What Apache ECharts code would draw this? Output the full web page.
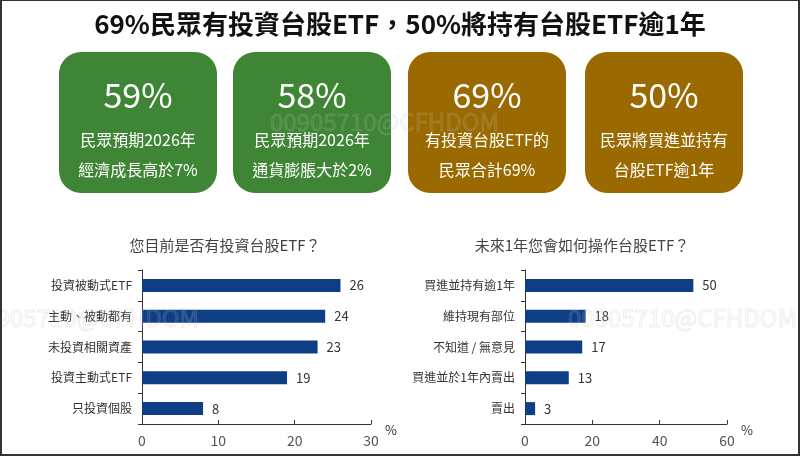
<!DOCTYPE html>
<html>
<head>
<meta charset="utf-8">
<script src="https://cdn.jsdelivr.net/npm/echarts@6/dist/echarts.min.js"></script>
<style>
  html, body { margin: 0; padding: 0; background: #fff; }
  #wrap { position: relative; width: 800px; height: 456px; }
  #chart { width: 800px; height: 456px; }
  #frame { position: absolute; left: 0; top: 0; width: 800px; height: 456px; box-sizing: border-box;
           border: 2px solid #333; border-top-width: 1px; pointer-events: none; }
</style>
</head>
<body>
<div id="wrap">
  <div id="chart"></div>
  <div id="frame"></div>
</div>
<script>
// 上方四個重點數字
const cardValues = ["59%", "58%", "69%", "50%"];
const cardLines = [
  ["民眾預期2026年", "經濟成長高於7%"],
  ["民眾預期2026年", "通貨膨脹大於2%"],
  ["有投資台股ETF的", "民眾合計69%"],
  ["民眾將買進並持有", "台股ETF逾1年"]
];
const cardColors = ["#3f8536", "#3f8536", "#9a6a00", "#9a6a00"];

// 左圖：您目前是否有投資台股ETF？
const holdCategories = ["投資被動式ETF", "主動、被動都有", "未投資相關資產", "投資主動式ETF", "只投資個股"];
const holdValues = [26, 24, 23, 19, 8];
const holdTicks = [0, 10, 20, 30];

// 右圖：未來1年您會如何操作台股ETF？
const planCategories = ["買進並持有逾1年", "維持現有部位", "不知道 / 無意見", "買進並於1年內賣出", "賣出"];
const planValues = [50, 18, 17, 13, 3];
const planTicks = [0, 20, 40, 60];

const FONT = '"Noto Sans CJK TC", "Noto Sans", sans-serif';
const chart = echarts.init(document.getElementById("chart"));

// 卡片（圓角矩形 + 文字）
const cardX = [59, 233, 408, 585];
const cardGraphics = [];
cardValues.forEach((v, i) => {
  const cx = cardX[i] + 79;
  cardGraphics.push({
    type: "rect",
    shape: { x: cardX[i], y: 52, width: 158, height: 141, r: 22 },
    style: { fill: cardColors[i] }
  });
  cardGraphics.push({
    type: "text",
    x: cx, y: 95,
    style: { text: v, fill: "#fff", font: "34px " + FONT, align: "center", verticalAlign: "middle" }
  });
  cardLines[i].forEach((t, j) => {
    cardGraphics.push({
      type: "text",
      x: cx, y: 140 + j * 30,
      style: { text: t, fill: "#fff", font: "16px " + FONT, align: "center", verticalAlign: "middle" }
    });
  });
});

// 浮水印
const watermark = [[270, 122], [-30, 318], [568, 318]].map(p => ({
  type: "text",
  x: p[0], y: p[1],
  z: 100,
  style: {
    text: "00905710@CFHDOM",
    fill: "rgba(255,255,255,0.08)",
    stroke: "rgba(170,170,170,0.22)",
    lineWidth: 1,
    font: "24px " + FONT,
    verticalAlign: "middle"
  }
}));

const xAxisOf = (ticks, idx) => ({
  type: "value",
  gridIndex: idx,
  min: ticks[0],
  max: ticks[ticks.length - 1],
  interval: ticks[1] - ticks[0],
  splitLine: { show: false },
  axisLine: { show: true, lineStyle: { color: "#333" } },
  axisTick: { show: true, inside: true, length: 4, lineStyle: { color: "#333" } },
  axisLabel: { color: "#555", fontSize: 14, fontFamily: FONT, margin: 10 },
  name: "%",
  nameLocation: "end",
  nameGap: 14,
  nameTextStyle: { color: "#333", fontSize: 13, fontFamily: FONT, verticalAlign: "top" }
});

const yAxisOf = (cats, idx) => ({
  type: "category",
  gridIndex: idx,
  data: cats,
  inverse: true,
  splitLine: { show: false },
  axisLine: { show: true, lineStyle: { color: "#333" } },
  axisTick: { show: true, length: 4, lineStyle: { color: "#333" } },
  axisLabel: { color: "#333", fontSize: 12, fontFamily: FONT, margin: 10 }
});

const barSeries = (vals, idx) => ({
  type: "bar",
  xAxisIndex: idx,
  yAxisIndex: idx,
  data: vals,
  barWidth: 13,
  itemStyle: { color: "#0e3e86" },
  label: { show: true, position: "right", distance: 9, color: "#333", fontSize: 13, fontFamily: FONT },
  silent: true
});

chart.setOption({
  animation: false,
  title: [
    { text: "69%民眾有投資台股ETF，50%將持有台股ETF逾1年", left: "center", top: 6,
      textStyle: { fontSize: 26, fontWeight: "bold", color: "#111", fontFamily: FONT } },
    { text: "您目前是否有投資台股ETF？", left: 220, top: 233, textAlign: "center",
      textStyle: { fontSize: 15, fontWeight: "normal", color: "#444", fontFamily: FONT } },
    { text: "未來1年您會如何操作台股ETF？", left: 577, top: 233, textAlign: "center",
      textStyle: { fontSize: 15, fontWeight: "normal", color: "#444", fontFamily: FONT } }
  ],
  grid: [
    { left: 142, right: 429, top: 270, bottom: 32 },
    { left: 525, right: 73, top: 270, bottom: 32 }
  ],
  xAxis: [xAxisOf(holdTicks, 0), xAxisOf(planTicks, 1)],
  yAxis: [yAxisOf(holdCategories, 0), yAxisOf(planCategories, 1)],
  series: [barSeries(holdValues, 0), barSeries(planValues, 1)],
  graphic: cardGraphics.concat(watermark)
});
</script>
</body>
</html>
